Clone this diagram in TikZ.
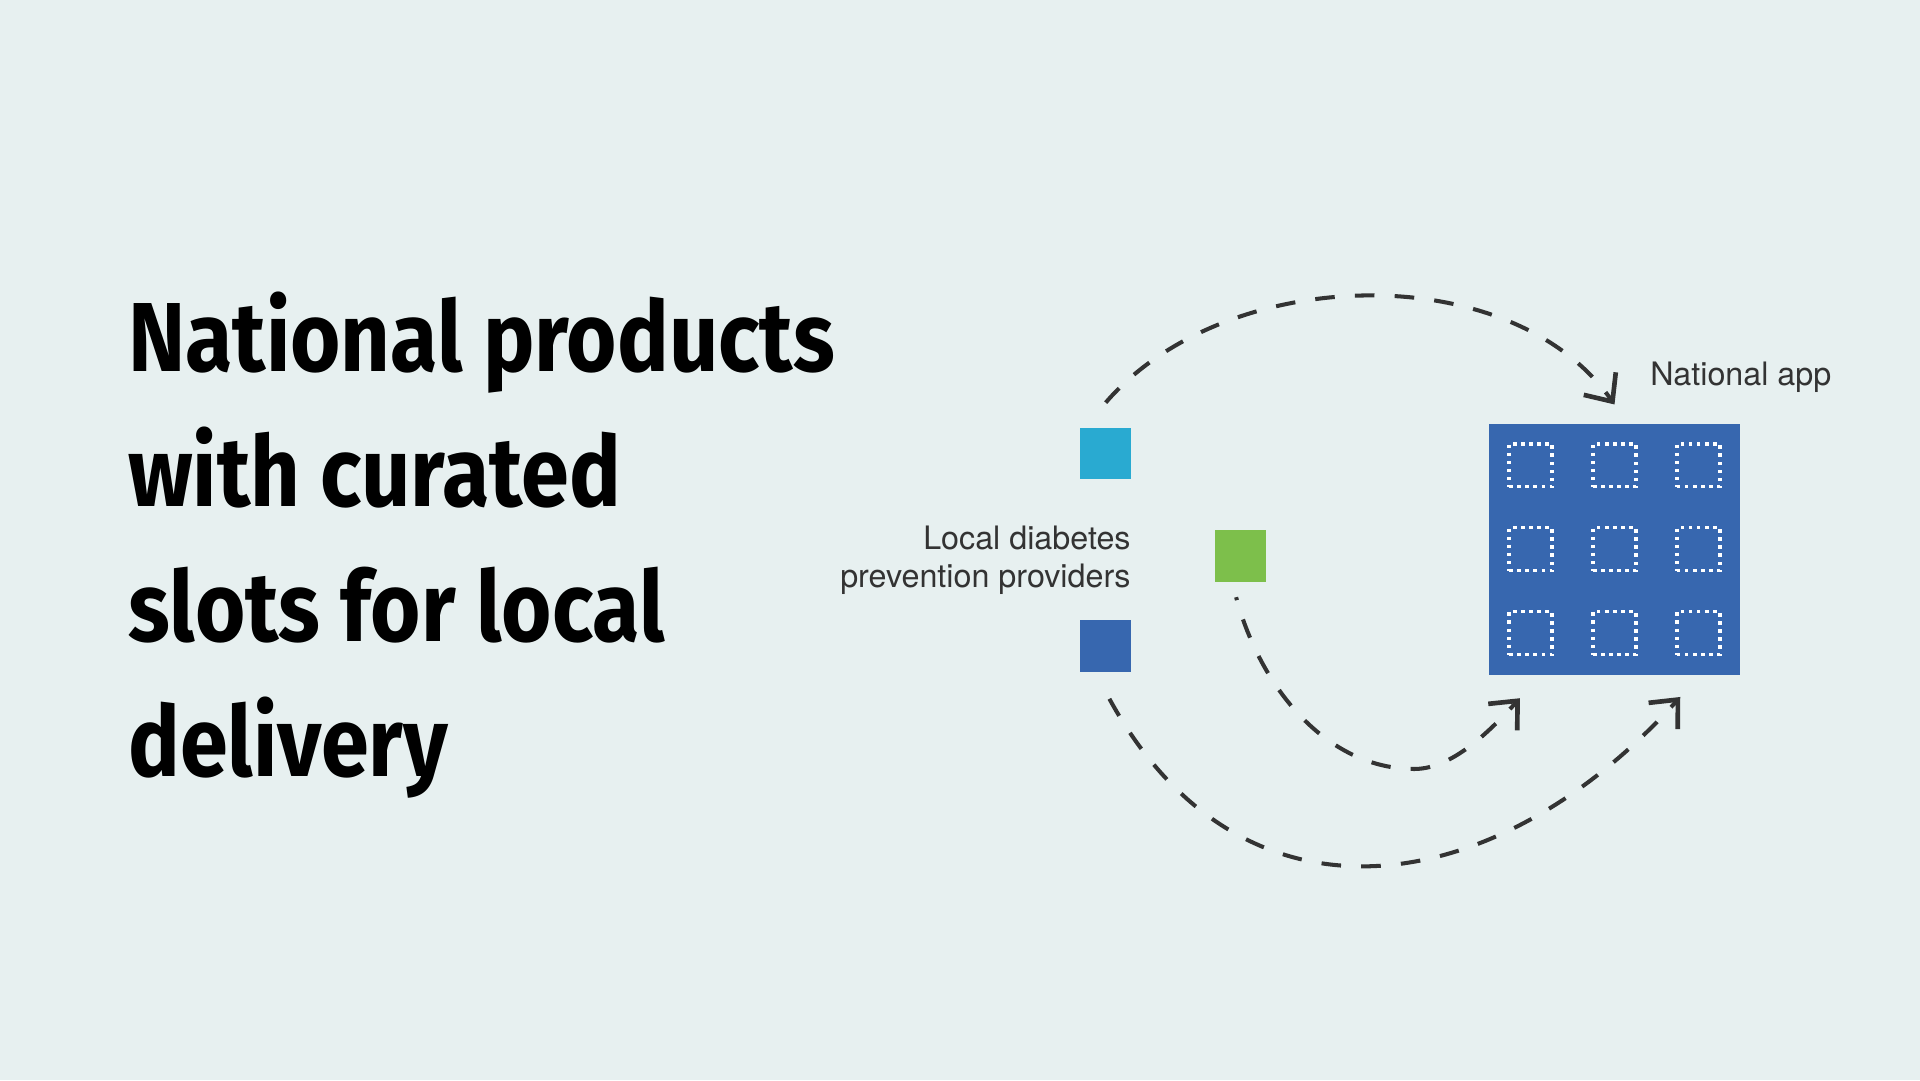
\documentclass[tikz,border=0pt]{standalone}
\usepackage{fontspec}
\setmainfont{TeX Gyre Heros}
\newfontfamily\titlefont{Fira Sans}[FakeStretch=0.88]
\usetikzlibrary{arrows.meta}

\begin{document}
\begin{tikzpicture}[x=0.1mm,y=-0.1mm,
    provider/.style={draw=none,minimum size=4.2mm,inner sep=0pt},
    slot/.style={draw=white,line width=0.28mm,dash pattern=on 0.28mm off 0.38mm,minimum size=3.5mm,inner sep=0pt},
    headline/.style={anchor=base west,inner sep=0pt,font=\titlefont\bfseries\fontsize{22.8}{31.4}\selectfont},
    caption/.style={inner sep=0pt,text=dgray,font=\fontsize{7.5}{8.7}\selectfont},
    link/.style={-{Straight Barb[length=1.8mm,width=3.2mm,line width=0.38mm]},dgray,line width=0.33mm,dash pattern=on 1.6mm off 1.65mm}
  ]

\definecolor{bgcol}{RGB}{231,240,240}
\definecolor{cblue}{RGB}{41,170,209}
\definecolor{mgreen}{RGB}{125,191,75}
\definecolor{mblue}{RGB}{55,103,175}
\definecolor{dgray}{RGB}{51,51,51}

\fill[bgcol] (0,0) rectangle (1568,882);

\node[headline] (title1) at (104,303.5) {National products};
\node[headline] (title2) at (104,413.8) {with curated};
\node[headline] (title3) at (104,524.1) {slots for local};
\node[headline] (title4) at (104,634.4) {delivery};

\node[provider,fill=cblue] (p1) at (903,370.5) {};
\node[provider,fill=mgreen] (p2) at (1013,454) {};
\node[provider,fill=mblue] (p3) at (903,527.5) {};
\node[caption,anchor=base east,align=right] (provlabel) at (924,479.6) {Local diabetes\\prevention providers};

\node[fill=mblue,minimum size=20.5mm,inner sep=0pt] (app) at (1318.5,448.5) {};
\node[caption,anchor=base west] (applabel) at (1347,315.2) {National app};

\node[slot] (s11) at (1250,380) {};
\node[slot] (s12) at (1318.5,380) {};
\node[slot] (s13) at (1387,380) {};
\node[slot] (s21) at (1250,448.5) {};
\node[slot] (s22) at (1318.5,448.5) {};
\node[slot] (s23) at (1387,448.5) {};
\node[slot] (s31) at (1250,517) {};
\node[slot] (s32) at (1318.5,517) {};
\node[slot] (s33) at (1387,517) {};

\draw[link] ([yshift=2mm]p1.north) .. controls (1000,216) and (1233,209) .. ([yshift=1.5mm]app.north);
\draw[link,dash phase=1.35mm] ([xshift=-0.35mm,yshift=-1.2mm]p2.south) .. controls (1030,564) and (1085,628) .. (1155,628) .. controls (1185,628) and (1215,599) .. ([xshift=2.6mm,yshift=-1.85mm]app.south west);
\draw[link] ([xshift=0.3mm,yshift=-2.15mm]p3.south) .. controls (1014,768) and (1221,737) .. ([xshift=-4.95mm,yshift=-1.75mm]app.south east);

\end{tikzpicture}
\end{document}
